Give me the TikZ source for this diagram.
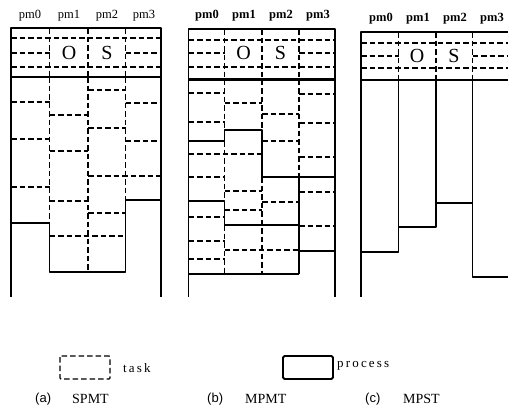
\documentclass[tikz,border=0pt]{standalone}
\usepackage{fontspec}
\setmainfont{Liberation Serif}
\newfontfamily\capsans{Liberation Sans}
\tikzset{
  frameln/.style={line width=1.8pt, line join=round},
  thickln/.style={line width=2.2pt},
  dashln/.style={line width=1.3pt, dash pattern=on 5.5pt off 3pt},
  pmlbl/.style={font=\fontsize{12.5}{13}\selectfont, inner sep=0pt},
  pmbold/.style={pmlbl, font=\bfseries\fontsize{12.5}{13}\selectfont},
  bigl/.style={font=\fontsize{20}{20}\selectfont, inner sep=0pt},
  legtext/.style={font=\fontsize{13}{14}\selectfont, inner sep=0pt, anchor=west},
  captag/.style={font=\capsans\fontsize{13}{14}\selectfont, inner sep=0pt, anchor=west},
  capname/.style={font=\fontsize{14}{15}\selectfont, inner sep=0pt, anchor=west}
}
\begin{document}
\begin{tikzpicture}[x=1pt,y=-1pt]
\useasboundingbox (0,0) rectangle (508,410);
\clip (0,0) rectangle (508,410);

% ---------------- (a) SPMT ----------------
\node[pmlbl] (a0) at (30,16) {pm0};
\node[pmlbl] (a1) at (69,16) {pm1};
\node[pmlbl] (a2) at (107,16) {pm2};
\node[pmlbl] (a3) at (144,16) {pm3};
\draw[frameln] (11,297) -- (11,28) -- (161,28) -- (161,297);
\draw[thickln] (11,77) -- (161,77);
% header rows
\draw[dashln] (11,38) -- (161,38) (11,67) -- (161,67)
  (11,53) -- (49.5,53) (125.5,53) -- (161,53);
\foreach \x in {49.5,88,125.5} \draw[dashln] (\x,28) -- (\x,77);
\node[bigl] (aO) at (69,53) {O};
\node[bigl] (aS) at (107,53) {S};
% tasks
\draw[dashln] (11,102) -- (49.5,102) (11,139) -- (49.5,139) (11,187) -- (49.5,187);
\draw[dashln] (49.5,115) -- (88,115) (49.5,151) -- (88,151) (49.5,201) -- (88,201)
  (49.5,236) -- (125.5,236);
\draw[dashln] (88,90) -- (125.5,90) (88,128) -- (125.5,128) (88,213) -- (125.5,213)
  (88,176) -- (161,176);
\draw[dashln] (125.5,103) -- (161,103) (125.5,141) -- (161,141);
\draw[dashln] (49.5,77) -- (49.5,223) (88,77) -- (88,272) (125.5,77) -- (125.5,200);
% process outline
\draw[frameln] (11,223) -- (49.5,223) -- (49.5,272) -- (125.5,272) -- (125.5,200) -- (161,200);

% ---------------- (b) MPMT ----------------
\node[pmbold] (b0) at (207,16) {pm0};
\node[pmbold] (b1) at (244,16) {pm1};
\node[pmbold] (b2) at (281,16) {pm2};
\node[pmbold] (b3) at (318,16) {pm3};
\draw[frameln] (188.5,297) -- (188.5,29) -- (335,29) -- (335,297);
\draw[thickln] (188.5,79.5) -- (335,79.5);
\draw[dashln] (188.5,40) -- (335,40) (188.5,67) -- (335,67)
  (188.5,53) -- (224.5,53) (299,53) -- (335,53);
\foreach \x in {224.5,262,299} \draw[dashln] (\x,29) -- (\x,79.5);
\node[bigl] (bO) at (243.5,53) {O};
\node[bigl] (bS) at (280.5,53) {S};
% tasks
\draw[dashln] (188.5,93) -- (224.5,93) (188.5,122) -- (224.5,122) (188.5,177) -- (224.5,177)
  (188.5,217) -- (224.5,217) (188.5,241) -- (224.5,241) (188.5,259) -- (224.5,259)
  (188.5,154) -- (262,154);
\draw[dashln] (224.5,103) -- (262,103) (224.5,191) -- (262,191) (224.5,210) -- (262,210)
  (224.5,250) -- (299,250);
\draw[dashln] (262,114) -- (299,114) (262,141) -- (299,141) (262,202) -- (299,202);
\draw[dashln] (299,94) -- (335,94) (299,123) -- (335,123) (299,157) -- (335,157)
  (299,192) -- (335,192) (299,226) -- (335,226);
\draw[dashln] (224.5,79.5) -- (224.5,130) (224.5,141) -- (224.5,201) (224.5,225) -- (224.5,274)
  (262,79.5) -- (262,130) (262,177) -- (262,274) (299,79.5) -- (299,177);
% process outlines
\draw[frameln] (188.5,141) -- (224.5,141) -- (224.5,130) -- (262,130) -- (262,177) -- (335,177);
\draw[frameln] (188.5,201) -- (224.5,201) -- (224.5,225) -- (299,225);
\draw[frameln] (299,177) -- (299,274) (299,251) -- (335,251);
\draw[frameln] (188.5,274) -- (299,274);

% ---------------- (c) MPST ----------------
\node[pmbold] (c0) at (381,19) {pm0};
\node[pmbold] (c1) at (418,19) {pm1};
\node[pmbold] (c2) at (455,19) {pm2};
\node[pmbold] (c3) at (492,19) {pm3};
\draw[frameln] (361,297) -- (361,32) -- (510,32) -- (510,297);
\draw[thickln] (361,80) -- (510,80);
\draw[dashln] (361,43) -- (510,43) (361,68) -- (510,68)
  (361,56) -- (398.5,56) (472.5,56) -- (510,56);
\foreach \x in {398.5,436,472.5} \draw[dashln] (\x,32) -- (\x,80);
\node[bigl] (cO) at (417,56) {O};
\node[bigl] (cS) at (454,56) {S};
% processes
\draw[frameln] (361,252) -- (398.5,252) -- (398.5,80);
\draw[frameln] (398.5,227) -- (436,227) -- (436,80);
\draw[frameln] (436,203) -- (472.5,203);
\draw[frameln] (472.5,80) -- (472.5,277) -- (510,277);

% ---------------- legend and captions ----------------
\draw[dashln, rounded corners=1pt] (60,356) rectangle (110,379);
\node[legtext] (ltask) at (123,368) {t\,a\,s\,k};
\draw[frameln, rounded corners=1.5pt] (283,356) rectangle (333,379);
\node[legtext] (lproc) at (337,366) {p\,r\,o\,c\,e\,s\,s};

\node[captag] (ta) at (35,399) {(a)};
\node[capname] (na) at (72,399) {SPMT};
\node[captag] (tb) at (207,399) {(b)};
\node[capname] (nb) at (245,399) {MPMT};
\node[captag] (tc) at (365,399) {(c)};
\node[capname] (nc) at (403,399) {MPST};
\end{tikzpicture}
\end{document}
